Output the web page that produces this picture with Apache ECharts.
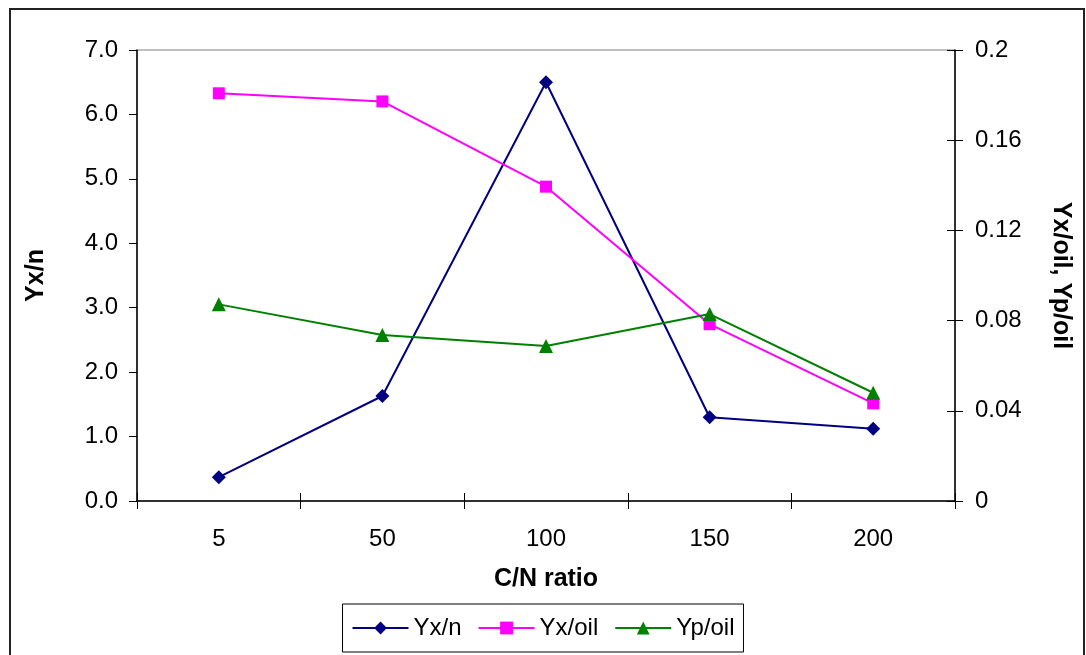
<!DOCTYPE html>
<html>
<head>
<meta charset="utf-8">
<script src="https://cdn.jsdelivr.net/npm/echarts@6/dist/echarts.min.js"></script>
<style>
html,body{margin:0;padding:0;background:#fff;}
#chart{width:1086px;height:655px;}
</style>
</head>
<body>
<div id="chart"></div>
<script>
const categories = ['5', '50', '100', '150', '200'];
const yxn = [0.37, 1.63, 6.5, 1.30, 1.12];
const yxoil = [0.1808, 0.1772, 0.1394, 0.0784, 0.0433];
const ypoil = [0.0872, 0.0736, 0.0687, 0.0829, 0.0480];

const FONT = '"Liberation Sans", Arial, sans-serif';
const chart = echarts.init(document.getElementById('chart'));

const labelStyle = {color: '#000', fontFamily: FONT, fontSize: 24};
const nameStyle = {color: '#000', fontFamily: FONT, fontSize: 25, fontWeight: 'bold'};

chart.setOption({
  animation: false,
  backgroundColor: '#fff',
  graphic: [{
    type: 'rect',
    shape: {x: 10, y: 9, width: 1074, height: 660},
    style: {fill: 'none', stroke: '#222', lineWidth: 2},
    z: 100
  }],
  grid: {
    left: 137, right: 131, top: 50, bottom: 154,
    show: true, borderColor: '#808080', borderWidth: 1, backgroundColor: 'transparent'
  },
  legend: {
    data: ['Yx/n', 'Yx/oil', 'Yp/oil'],
    left: 'center', top: 604,
    orient: 'horizontal',
    itemWidth: 56, itemHeight: 16, itemGap: 16,
    padding: [12, 9],
    borderColor: '#000', borderWidth: 1,
    textStyle: {color: '#000', fontFamily: FONT, fontSize: 24}
  },
  xAxis: [{
    type: 'category',
    data: categories,
    boundaryGap: true,
    position: 'bottom',
    name: 'C/N ratio',
    nameLocation: 'middle',
    nameGap: 66,
    nameTextStyle: nameStyle,
    axisLine: {lineStyle: {color: '#000', width: 1.5}},
    axisTick: {show: true, interval: 0, length: 8, inside: false, lineStyle: {color: '#000'}},
    axisLabel: Object.assign({margin: 26, interval: 0}, labelStyle),
    splitLine: {show: false}
  }, {
    type: 'category',
    data: categories,
    boundaryGap: true,
    position: 'bottom',
    axisLine: {show: false},
    axisTick: {show: true, interval: 0, length: 8, inside: true, lineStyle: {color: '#000'}},
    axisLabel: {show: false},
    splitLine: {show: false}
  }],
  yAxis: [{
    type: 'value',
    position: 'left',
    min: 0, max: 7, interval: 1,
    name: 'Yx/n',
    nameLocation: 'middle',
    nameGap: 88,
    nameRotate: 90,
    nameTextStyle: nameStyle,
    axisLine: {show: true, lineStyle: {color: '#000', width: 1.5}},
    axisTick: {show: true, length: 8, lineStyle: {color: '#000'}},
    axisLabel: Object.assign({margin: 19, formatter: v => v.toFixed(1)}, labelStyle),
    splitLine: {show: false}
  }, {
    type: 'value',
    position: 'right',
    min: 0, max: 0.2, interval: 0.04,
    name: 'Yx/oil, Yp/oil',
    nameLocation: 'middle',
    nameGap: 93,
    nameRotate: -90,
    nameTextStyle: nameStyle,
    axisLine: {show: true, lineStyle: {color: '#000', width: 1.5}},
    axisTick: {show: true, length: 8, lineStyle: {color: '#000'}},
    axisLabel: Object.assign({margin: 20}, labelStyle),
    splitLine: {show: false}
  }, {
    type: 'value',
    position: 'right',
    min: 0, max: 0.2, interval: 0.04,
    axisLine: {show: false},
    axisTick: {show: true, inside: true, length: 8, lineStyle: {color: '#000'}},
    axisLabel: {show: false},
    splitLine: {show: false}
  }],
  series: [{
    name: 'Yx/n',
    type: 'line',
    yAxisIndex: 0,
    data: yxn,
    symbol: 'diamond', symbolSize: 14,
    color: '#000080',
    lineStyle: {color: '#000080', width: 2},
    itemStyle: {color: '#000080'}
  }, {
    name: 'Yx/oil',
    type: 'line',
    yAxisIndex: 1,
    data: yxoil,
    symbol: 'rect', symbolSize: 12,
    color: '#FF00FF',
    lineStyle: {color: '#FF00FF', width: 2},
    itemStyle: {color: '#FF00FF'}
  }, {
    name: 'Yp/oil',
    type: 'line',
    yAxisIndex: 1,
    data: ypoil,
    symbol: 'triangle', symbolSize: 14,
    color: '#008000',
    lineStyle: {color: '#008000', width: 2},
    itemStyle: {color: '#008000'}
  }]
});
</script>
</body>
</html>
